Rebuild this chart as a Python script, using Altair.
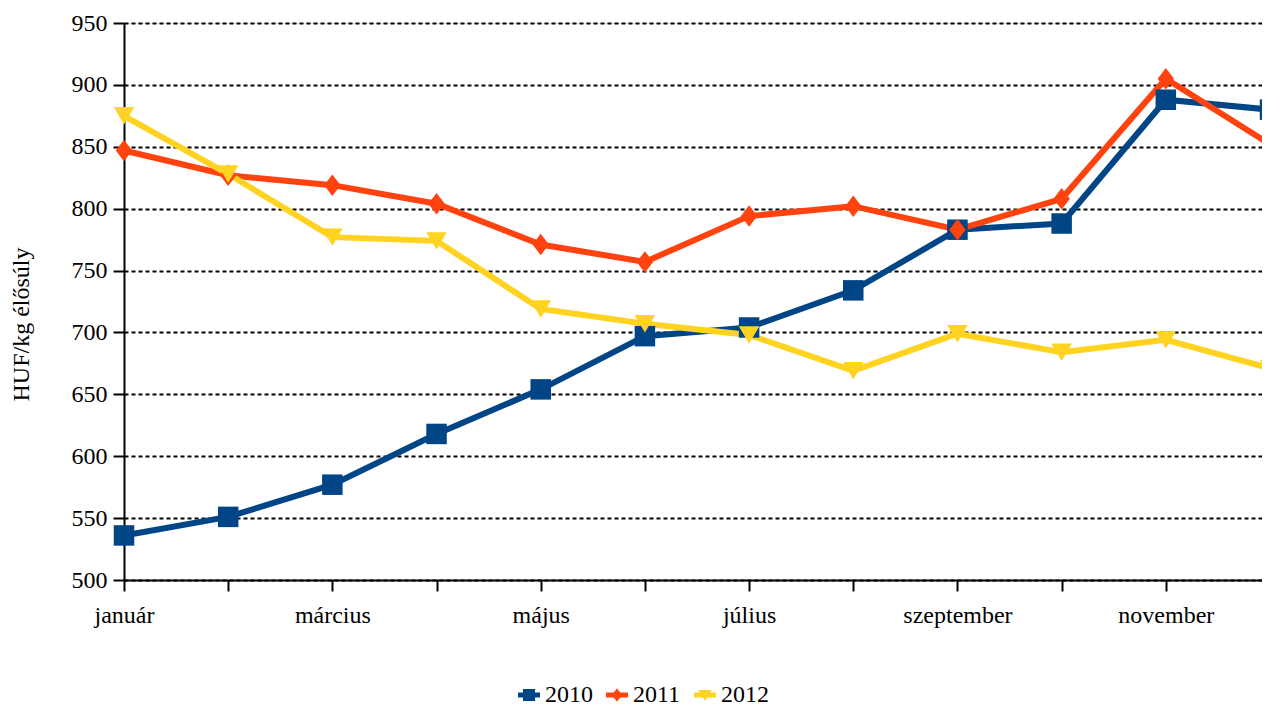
import altair as alt
import pandas as pd

months = ['január', 'február', 'március', 'április', 'május', 'június',
          'július', 'augusztus', 'szeptember', 'október', 'november', 'december']
years = ['2010', '2011', '2012']
v2010 = [536, 551, 577, 618, 654, 697, 704, 734, 783, 788, 888, 880]
v2011 = [847, 827, 819, 804, 771, 757, 794, 802, 783, 808, 905, 852]
v2012 = [875, 828, 777, 774, 719, 707, 698, 669, 699, 684, 694, 671]
colors = ['#004586', '#ff420e', '#ffd320']
y_ticks = [500, 550, 600, 650, 700, 750, 800, 850, 900, 950]
shown_labels = ['január', 'március', 'május', 'július', 'szeptember', 'november']

rows = []
for yr, vals in zip(years, [v2010, v2011, v2012]):
    for i, (m, v) in enumerate(zip(months, vals)):
        rows.append({'honap': m, 'ev': yr, 'ertek': v, 'order': i})
df = pd.DataFrame(rows)

FONT = 'Liberation Serif'
FS = 24

point_paths = [
    'M-1,-1H1V1H-1Z',
    'M0,-1.05L0.8,0L0,1.05L-0.8,0Z',
    'M-1,-0.85H1L0,0.85Z',
]

leg_line = 'M-1,-0.22H1V0.22H-1Z'
leg_paths = [
    leg_line + 'M-0.55,-0.55H0.55V0.55H-0.55Z',
    leg_line + 'M0,-0.62L0.45,0L0,0.62L-0.45,0Z',
    leg_line + 'M-0.6,-0.45H0.6L0,0.55Z',
]

x_enc = alt.X(
    'honap:O',
    sort=months,
    scale=alt.Scale(type='point', range=[0, 1146], padding=0),
    axis=alt.Axis(
        title=None,
        labelExpr="indexof(" + str(shown_labels) + ", datum.label) >= 0 ? datum.label : ''",
        labelAngle=0,
        labelFont=FONT, labelFontSize=FS, labelColor='black',
        labelPadding=12,
        tickSize=11, tickColor='black', tickWidth=2,
        domainColor='black', domainWidth=2,
        grid=False,
    ),
)
y_enc = alt.Y(
    'ertek:Q',
    scale=alt.Scale(domain=[500, 950], nice=False, zero=False),
    axis=alt.Axis(
        title='HUF/kg élősúly',
        titleFont=FONT, titleFontSize=FS, titleFontWeight='normal', titleColor='black',
        titleX=-103, titleY=301, titleAngle=270, titleAlign='center', titleBaseline='middle',
        values=y_ticks,
        labelFont=FONT, labelFontSize=FS, labelColor='black', labelPadding=6,
        tickSize=11, tickColor='black', tickWidth=2,
        domainColor='black', domainWidth=2,
        grid=True, gridColor='black', gridWidth=2, gridDash=[4, 3], gridOpacity=1,
    ),
)
color_scale = alt.Scale(domain=years, range=colors)

legend = alt.Legend(
    title=None,
    orient='none', legendX=393, legendY=660,
    direction='horizontal',
    labelFont=FONT, labelFontSize=FS, labelColor='black',
    labelOffset=4, columnPadding=12, symbolSize=484,
    symbolStrokeWidth=0, symbolOpacity=1,
    padding=0,
)

base = alt.Chart(df)
color_enc = alt.Color('ev:N', scale=color_scale, legend=legend)

legend_layer = base.transform_filter('false').mark_point(filled=True, opacity=1).encode(
    x=x_enc, y=y_enc,
    color=color_enc,
    shape=alt.Shape('ev:N', scale=alt.Scale(domain=years, range=leg_paths), legend=legend),
)

lines = base.mark_line(strokeWidth=6).encode(
    x=x_enc, y=y_enc, color=color_enc, order='order:Q',
)

point_layers = []
for yr, path in zip(years, point_paths):
    point_layers.append(
        base.transform_filter(alt.datum.ev == yr)
        .mark_point(filled=True, opacity=1, size=420, strokeWidth=0, shape=path)
        .encode(x=x_enc, y=y_enc, color=color_enc)
    )

chart = alt.layer(legend_layer, lines, *point_layers).properties(
    width=1138, height=557,
    autosize=alt.AutoSizeParams(type='none'),
    padding={'left': 116, 'top': 15, 'right': 0, 'bottom': 128},
).configure_view(stroke=None).configure(background='white')

chart.save('out.html', embed_options={'renderer': 'svg', 'actions': False})
